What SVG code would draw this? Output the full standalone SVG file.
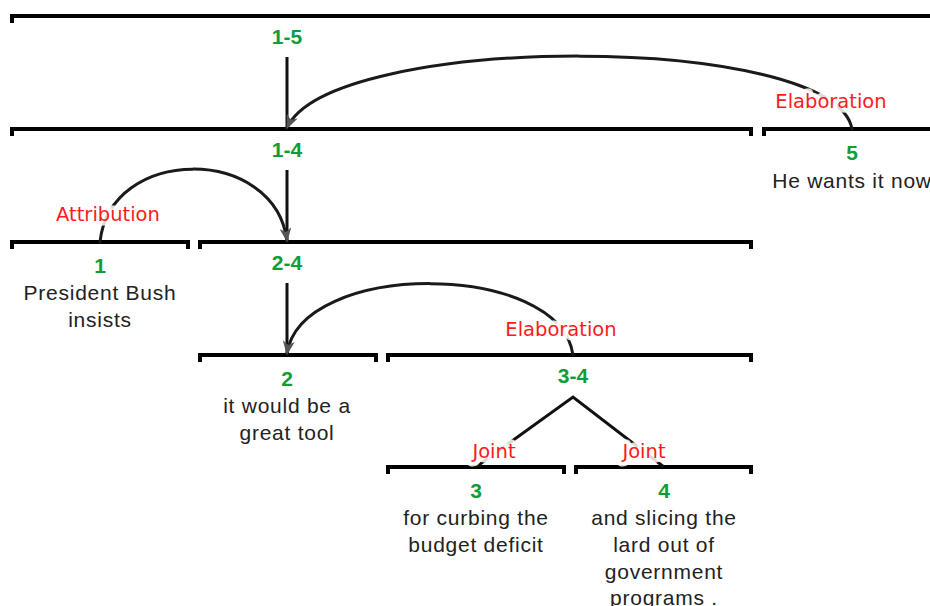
<svg xmlns="http://www.w3.org/2000/svg" width="930" height="606" viewBox="0 0 930 606">
<style>
.bar{fill:none;stroke:#000;stroke-width:4;stroke-linejoin:miter}
.num{font-family:"Liberation Sans",Arial,sans-serif;font-weight:bold;font-size:21px;fill:#0f9d3a;text-anchor:middle}
.txt{font-family:"Liberation Sans",Arial,sans-serif;font-size:21px;fill:#222;text-anchor:middle;letter-spacing:0.75px}
.rel{font-family:"DejaVu Sans",Verdana,sans-serif;font-size:19.5px;fill:#ff1a1a;text-anchor:middle;stroke:#fff;stroke-width:9;stroke-opacity:0.85;stroke-linejoin:round;paint-order:stroke}
.arc{fill:none;stroke:#1a1a1a;stroke-width:3;stroke-linecap:round}
.ln{fill:none;stroke:#111;stroke-width:3}
</style>
<defs>
<marker id="ah" markerUnits="userSpaceOnUse" markerWidth="16" markerHeight="12" refX="13" refY="6" orient="auto">
<path d="M0,0 L14,6 L0,12 L4,6 z" fill="#555"/>
</marker>
</defs>
<rect width="930" height="606" fill="#fff"/>
<g id="bars">
<path class="bar" d="M12,23 V16 H934"/>
<path class="bar" d="M12,136 V129 H751 V136"/>
<path class="bar" d="M764,136 V129 H934"/>
<path class="bar" d="M12,249 V242 H188 V249"/>
<path class="bar" d="M200,249 V242 H751 V249"/>
<path class="bar" d="M200,362 V355 H376 V362"/>
<path class="bar" d="M388,362 V355 H751 V362"/>
<path class="bar" d="M388,474 V467 H564 V474"/>
<path class="bar" d="M576,474 V467 H751 V474"/>
</g>
<g id="connectors">
<path class="ln" d="M287,57 V129"/>
<path class="ln" d="M287,170 V242"/>
<path class="ln" d="M287,283 V355"/>
<path class="arc" d="M852,129 C835,32 330,32 287,128" marker-end="url(#ah)"/>
<path class="arc" d="M100,242 C110,145 275,145 287,241" marker-end="url(#ah)"/>
<path class="arc" d="M573,355 C560,260 300,260 287,354" marker-end="url(#ah)"/>
<path class="ln" d="M476,467 L573,397 L664,467"/>
</g>
<g id="relations">
<text class="rel" x="831" y="108">Elaboration</text>
<text class="rel" x="108" y="221">Attribution</text>
<text class="rel" x="561" y="336">Elaboration</text>
<text class="rel" x="494" y="458">Joint</text>
<text class="rel" x="644" y="458">Joint</text>
</g>
<g id="n1-5"><text class="num" x="287" y="44">1-5</text></g>
<g id="n1-4"><text class="num" x="287" y="157">1-4</text></g>
<g id="n2-4"><text class="num" x="287" y="270">2-4</text></g>
<g id="n3-4"><text class="num" x="573" y="383">3-4</text></g>
<g id="n5"><text class="num" x="852" y="160">5</text><text class="txt" x="852" y="188">He wants it now</text></g>
<g id="n1"><text class="num" x="100" y="273">1</text><text class="txt" x="100" y="300">President Bush</text><text class="txt" x="100" y="327">insists</text></g>
<g id="n2"><text class="num" x="287" y="386">2</text><text class="txt" x="287" y="413">it would be a</text><text class="txt" x="287" y="440">great tool</text></g>
<g id="n3"><text class="num" x="476" y="498">3</text><text class="txt" x="476" y="525">for curbing the</text><text class="txt" x="476" y="552">budget deficit</text></g>
<g id="n4"><text class="num" x="664" y="498">4</text><text class="txt" x="664" y="525">and slicing the</text><text class="txt" x="664" y="552">lard out of</text><text class="txt" x="664" y="579">government</text><text class="txt" x="664" y="605">programs .</text></g>
</svg>
